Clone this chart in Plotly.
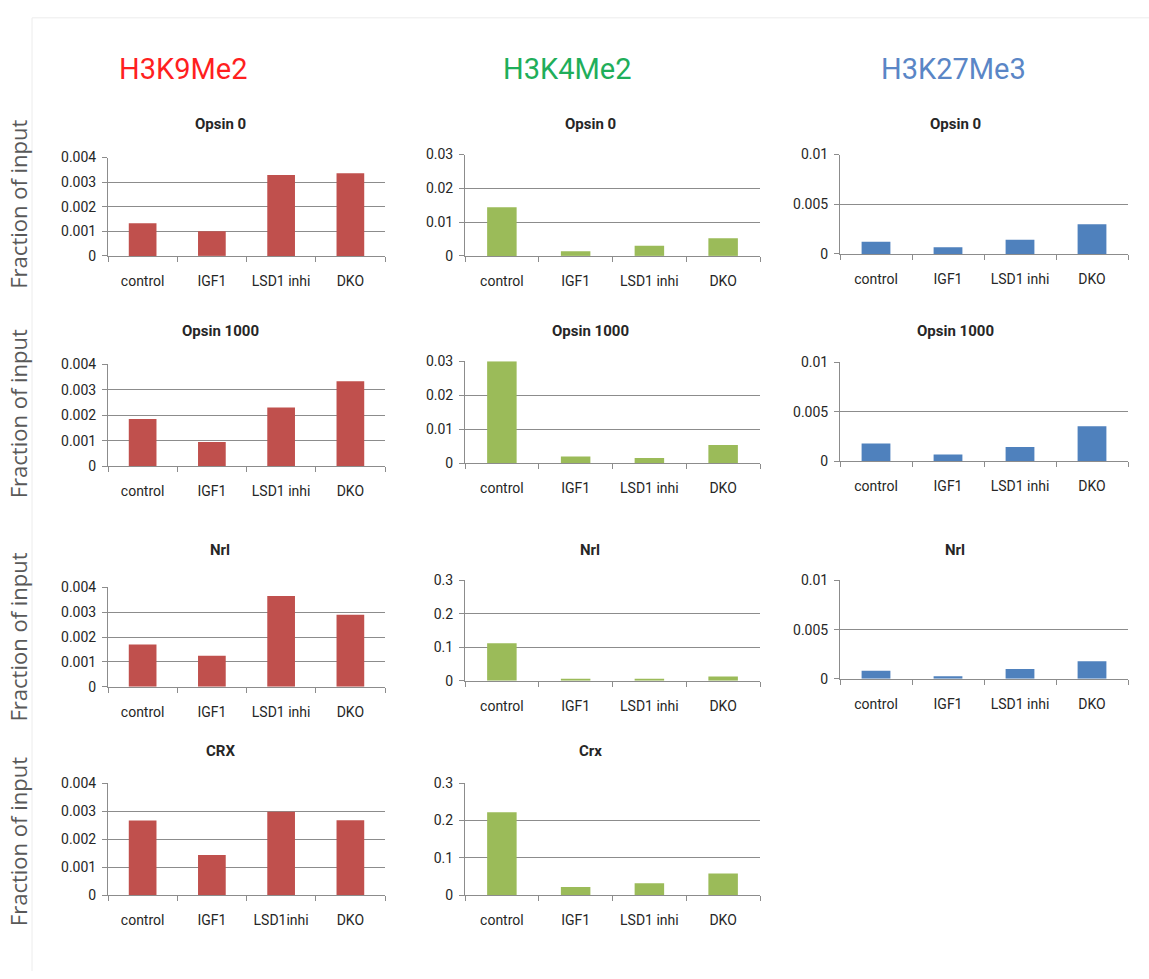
import plotly.graph_objects as go

# ---- data -------------------------------------------------------------
groups = ["control", "IGF1", "LSD1 inhi", "DKO"]
groups_crx_k9 = ["control", "IGF1", "LSD1inhi", "DKO"]

marks = ["H3K9Me2", "H3K4Me2", "H3K27Me3"]
loci = ["Opsin 0", "Opsin 1000", "Nrl", "CRX"]
loci_k4 = ["Opsin 0", "Opsin 1000", "Nrl", "Crx"]

# H3K9Me2 (fraction of input)
k9_opsin0 = [0.00133, 0.00100, 0.00329, 0.00336]
k9_opsin1000 = [0.00185, 0.00095, 0.00230, 0.00333]
k9_nrl = [0.00170, 0.00125, 0.00365, 0.00290]
k9_crx = [0.00267, 0.00144, 0.00298, 0.00268]

# H3K4Me2
k4_opsin0 = [0.0144, 0.0014, 0.0030, 0.0052]
k4_opsin1000 = [0.0300, 0.0020, 0.0016, 0.0054]
k4_nrl = [0.112, 0.006, 0.006, 0.013]
k4_crx = [0.222, 0.022, 0.032, 0.058]

# H3K27Me3
k27_opsin0 = [0.00122, 0.00066, 0.00142, 0.00298]
k27_opsin1000 = [0.00182, 0.00070, 0.00146, 0.00354]
k27_nrl = [0.00083, 0.00027, 0.00100, 0.00180]

# y-axis tick labels
ticks_k9 = [0, 0.001, 0.002, 0.003, 0.004]
ticktext_k9 = ["0", "0.001", "0.002", "0.003", "0.004"]
ticks_k4_small = [0, 0.01, 0.02, 0.03]
ticktext_k4_small = ["0", "0.01", "0.02", "0.03"]
ticks_k4_large = [0, 0.1, 0.2, 0.3]
ticktext_k4_large = ["0", "0.1", "0.2", "0.3"]
ticks_k27 = [0, 0.005, 0.01]
ticktext_k27 = ["0", "0.005", "0.01"]

# ---- styling ----------------------------------------------------------
W, H = 1149, 979
RED, GREEN, BLUE = "#c0504d", "#9bbb59", "#4f81bd"
GRID = "#8c8c8c"
FONT = "Roboto, sans-serif"
TXT = "#262626"

# panel boxes in pixels: (left, right, top, bottom)
col_x = [(108, 385), (465, 760), (840, 1128)]
row_y = [
    [(152, 252), (149, 252), (149, 250)],
    [(362, 466), (359, 463), (360, 461)],
    [(589, 690), (582, 684), (582, 682)],
    [(788, 902), (788, 902)],
]
title_x = [220, 590, 955]
title_y = [118, 328, 551, 755]

panels = [
    # (row, col, title, categories, values, color, tickvals, ticktext)
    (0, 0, loci[0], groups, k9_opsin0, RED, ticks_k9, ticktext_k9),
    (1, 0, loci[1], groups, k9_opsin1000, RED, ticks_k9, ticktext_k9),
    (2, 0, loci[2], groups, k9_nrl, RED, ticks_k9, ticktext_k9),
    (3, 0, loci[3], groups_crx_k9, k9_crx, RED, ticks_k9, ticktext_k9),
    (0, 1, loci_k4[0], groups, k4_opsin0, GREEN, ticks_k4_small, ticktext_k4_small),
    (1, 1, loci_k4[1], groups, k4_opsin1000, GREEN, ticks_k4_small, ticktext_k4_small),
    (2, 1, loci_k4[2], groups, k4_nrl, GREEN, ticks_k4_large, ticktext_k4_large),
    (3, 1, loci_k4[3], groups, k4_crx, GREEN, ticks_k4_large, ticktext_k4_large),
    (0, 2, loci[0], groups, k27_opsin0, BLUE, ticks_k27, ticktext_k27),
    (1, 2, loci[1], groups, k27_opsin1000, BLUE, ticks_k27, ticktext_k27),
    (2, 2, loci[2], groups, k27_nrl, BLUE, ticks_k27, ticktext_k27),
]

fig = go.Figure()
layout = {}
annotations = []

for i, (r, c, title, cats, vals, color, tv, tt) in enumerate(panels, start=1):
    xl, xr = col_x[c]
    yt, yb = row_y[r][c]
    xname = "x" if i == 1 else f"x{i}"
    yname = "y" if i == 1 else f"y{i}"
    fig.add_trace(go.Bar(
        x=cats, y=vals, xaxis=xname, yaxis=yname,
        marker=dict(color=color, line=dict(width=0)),
        width=0.4, showlegend=False, hoverinfo="x+y",
    ))
    layout["xaxis" if i == 1 else f"xaxis{i}"] = dict(
        domain=[xl / W, xr / W], anchor=yname,
        type="category", range=[-0.5, 3.5],
        showline=True, linecolor=GRID, linewidth=1,
        ticks="outside", tickson="boundaries", ticklen=5, tickcolor=GRID,
        showgrid=False, zeroline=False,
        tickfont=dict(family=FONT, size=14, color=TXT),
        ticklabelstandoff=12, fixedrange=True,
    )
    layout["yaxis" if i == 1 else f"yaxis{i}"] = dict(
        domain=[1 - yb / H, 1 - yt / H], anchor=xname,
        range=[0, tv[-1]], tickvals=tv, ticktext=tt,
        showline=True, linecolor=GRID, linewidth=1,
        ticks="outside", ticklen=5, tickcolor=GRID,
        showgrid=True, gridcolor=GRID, gridwidth=1, zeroline=False,
        tickfont=dict(family=FONT, size=14, color=TXT),
        ticklabelstandoff=3, fixedrange=True,
    )
    annotations.append(dict(
        text=f"<b>{title}</b>", x=title_x[c] / W, y=1 - title_y[r] / H,
        xref="paper", yref="paper", xanchor="center", yanchor="middle",
        showarrow=False, font=dict(family=FONT, size=15, color=TXT),
    ))

# column headers
header_x = [183, 567, 953]
header_colors = ["#ff1f1f", "#1fae5a", "#5a86c6"]
for name, hx, hc in zip(marks, header_x, header_colors):
    annotations.append(dict(
        text=name, x=hx / W, y=1 - 62 / H, xref="paper", yref="paper",
        xanchor="center", yanchor="middle", showarrow=False,
        font=dict(family=FONT, size=29, color=hc),
    ))

# row labels
for ry in [200, 413, 640, 848]:
    annotations.append(dict(
        text="Fraction of input", x=18 / W, y=1 - ry / H,
        xref="paper", yref="paper", xanchor="center", yanchor="middle",
        textangle=-90, showarrow=False,
        font=dict(family="Open Sans, sans-serif", size=22, color="#595959"),
    ))

# faint frame of the figure panel
shapes = [
    dict(type="line", xref="paper", yref="paper", x0=32 / W, x1=1, y0=1 - 10 / H, y1=1 - 10 / H,
         line=dict(color="#ececec", width=1)),
    dict(type="line", xref="paper", yref="paper", x0=32 / W, x1=32 / W, y0=0, y1=1 - 10 / H,
         line=dict(color="#ececec", width=1)),
]

fig.update_layout(
    width=W, height=H,
    margin=dict(l=0, r=0, t=0, b=0),
    paper_bgcolor="white", plot_bgcolor="white",
    bargap=0.6, annotations=annotations, shapes=shapes,
    **layout,
)

fig.write_html("out.html")
